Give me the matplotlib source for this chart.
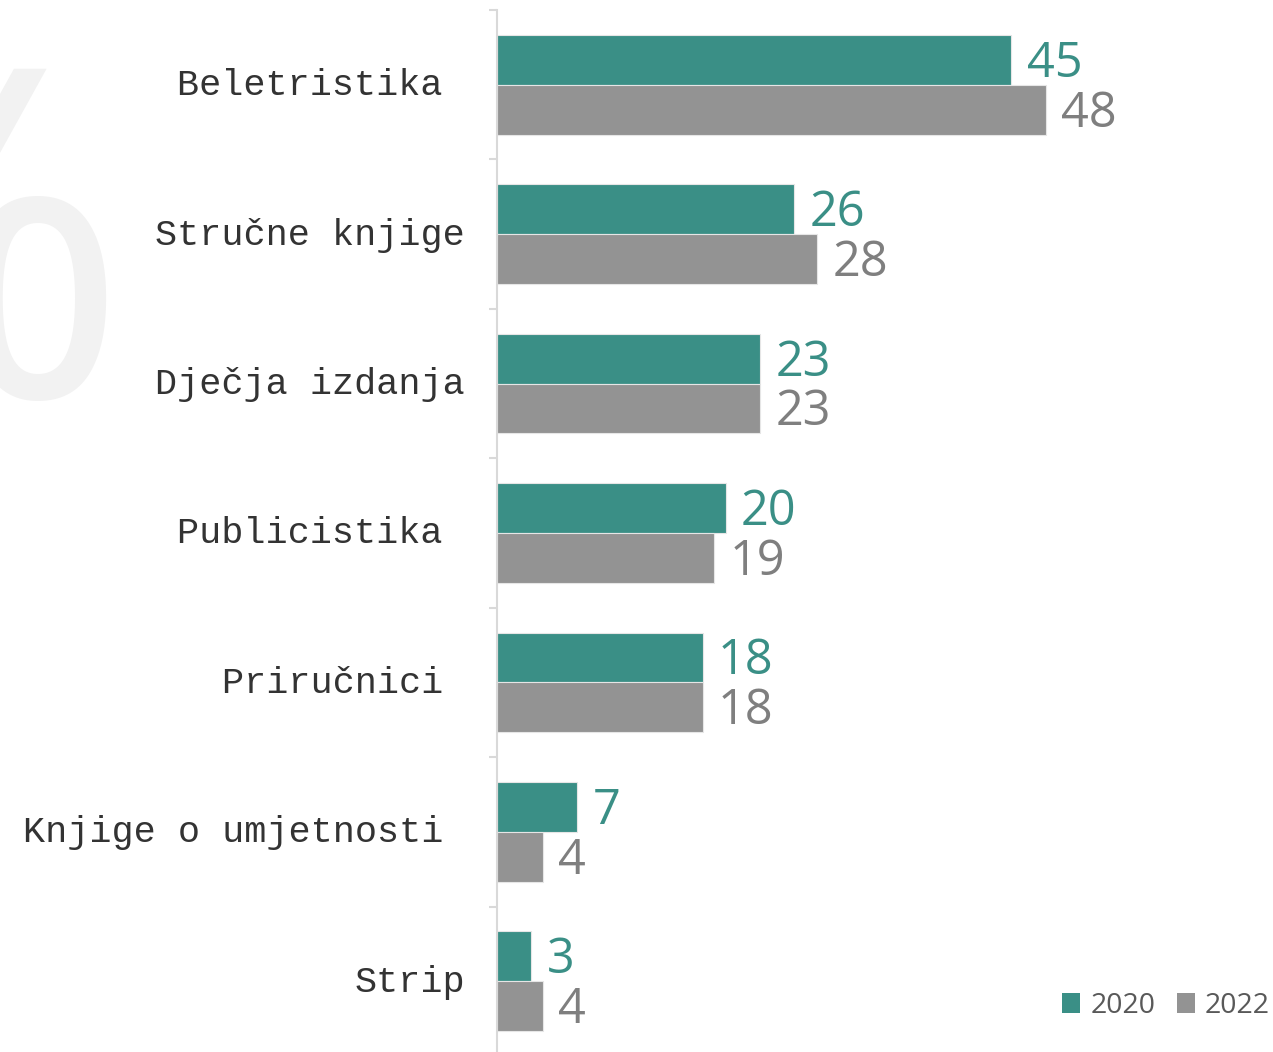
import matplotlib
matplotlib.use("Agg")
import matplotlib.pyplot as plt
import matplotlib.transforms as mtransforms
import numpy as np

categories = ["Beletristika ", "Stručne knjige", "Dječja izdanja", "Publicistika ",
              "Priručnici ", "Knjige o umjetnosti ", "Strip"]
values_2020 = [45, 26, 23, 20, 18, 7, 3]
values_2022 = [48, 28, 23, 19, 18, 4, 4]
series_names = ["2020", "2022"]

TEAL = "#3a8f86"
GRAY = "#939393"
GRAY_TXT = "#7f7f7f"
AXIS = "#d9d9d9"

W, H = 1273, 1052
fig = plt.figure(figsize=(W / 100, H / 100), dpi=100)
fig.patch.set_facecolor("white")

# watermark
fig.text(128 / W, 1 - 397 / H, "%", fontsize=330, family="Open Sans",
         color="#f2f2f2", ha="right", va="baseline", zorder=0)

ax = fig.add_axes([497 / W, 1 - 1056 / H, 776 / W, 1046 / H])
ax.patch.set_alpha(0)

y = np.arange(len(categories))
h = 0.334
b1 = ax.barh(y - h / 2, values_2020, height=h, color=TEAL, edgecolor="#e6e6e6",
             linewidth=0.8, label=series_names[0])
b2 = ax.barh(y + h / 2, values_2022, height=h, color=GRAY, edgecolor="#e6e6e6",
             linewidth=0.8, label=series_names[1])

ax.set_ylim(len(categories) - 0.5, -0.5)
ax.set_xlim(0, 776 / 11.43)

for bars, vals, col in ((b1, values_2020, TEAL), (b2, values_2022, GRAY_TXT)):
    for rect, v in zip(bars, vals):
        ax.annotate(str(v), (v, rect.get_y() + rect.get_height() / 2),
                    xytext=(11, -3), textcoords="offset points",
                    ha="left", va="center", fontsize=35, family="Open Sans",
                    color=col)

for s in ("top", "right", "bottom"):
    ax.spines[s].set_visible(False)
ax.spines["left"].set_color(AXIS)
ax.spines["left"].set_linewidth(1.5)
ax.set_xticks([])
ax.set_yticks(y)
ax.set_yticklabels(categories, family="Liberation Mono", fontsize=26.6, color="#333333")
ax.tick_params(axis="y", which="major", length=0, pad=23)
ax.set_yticks(np.arange(-0.5, len(categories) + 0.5, 1), minor=True)
ax.tick_params(axis="y", which="minor", length=6, width=1.5, color=AXIS)

offset = mtransforms.ScaledTranslation(0, 3 / 100, fig.dpi_scale_trans)
for lbl in ax.get_yticklabels():
    lbl.set_transform(lbl.get_transform() + offset)

leg = fig.legend(handles=[b1, b2], labels=series_names, loc="lower right",
                 bbox_to_anchor=(1270 / W, 1 - 1020 / H), ncol=2, frameon=False,
                 prop={"family": "Open Sans", "size": 20.5}, handlelength=0.65,
                 handleheight=0.65, handletextpad=0.35, columnspacing=0.75,
                 borderaxespad=0, borderpad=0)
for t in leg.get_texts():
    t.set_color("#595959")
for hdl in leg.legend_handles:
    hdl.set_edgecolor("none")

fig.savefig("out.png", dpi=100)
